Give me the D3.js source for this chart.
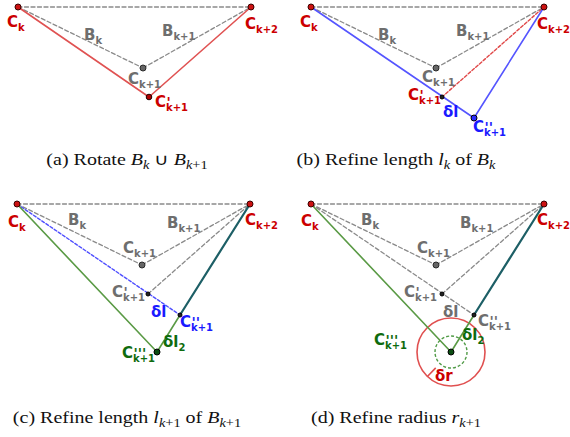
<!DOCTYPE html>
<html>
<head>
<meta charset="utf-8">
<script src="https://cdn.jsdelivr.net/npm/d3@7"></script>
<style>
  body { margin: 0; background: #fff; }
</style>
</head>
<body>
<script>
// Construction points, in panel units (C_k at the origin, y grows downward)
const pointIds = ["ck", "ck1", "ck2", "c1", "c2", "c3"];
const pointX = [0, 125, 233, 131, 163, 140];
const pointY = [0, 61, 0, 90, 111, 148];
const radiusOuter = 34, radiusInner = 16;   // circles round C'''_{k+1} in (d)

const panelIds = ["a", "b", "c", "d"];

// which segments and points each panel shows
const panelSegments = [
  [["ck","ck2","gray"],["ck","ck1","gray"],["ck1","ck2","gray"],["ck","c1","red"],["c1","ck2","red"]],
  [["ck","ck2","gray"],["ck","ck1","gray"],["ck1","ck2","gray"],["c1","ck2","redDash"],["ck","c2","blue"],["c2","ck2","blue"]],
  [["ck","ck2","gray"],["ck","ck1","gray"],["ck1","ck2","gray"],["c1","ck2","gray"],["ck","c2","blueDash"],["ck","c3","green"],["c3","c2","green"],["c2","ck2","teal"]],
  [["ck","ck2","gray"],["ck","ck1","gray"],["ck1","ck2","gray"],["c1","ck2","gray"],["ck","c2","gray"],["ck","c3","green"],["c3","c2","green"],["c2","ck2","teal"]]
];
const panelPoints = [
  [["ck","red"],["ck2","red"],["ck1","gray"],["c1","darkred"]],
  [["ck","red"],["ck2","red"],["ck1","gray"],["c1","black"],["c2","blue"]],
  [["ck","red"],["ck2","red"],["ck1","gray"],["c1","black"],["c2","black"],["c3","green"]],
  [["ck","red"],["ck2","red"],["ck1","gray"],["c1","black"],["c2","black"],["c3","green"]]
];

// label texts: [main, prime, subscript, colour]
const panelLabels = [
  [["C","","k","red"],["C","","k+2","red"],["B","","k","gray"],["B","","k+1","gray"],["C","","k+1","gray"],["C","'","k+1","red"]],
  [["C","","k","red"],["C","","k+2","red"],["B","","k","gray"],["B","","k+1","gray"],["C","","k+1","gray"],["C","'","k+1","red"],["δl","","","blue"],["C","''","k+1","blue"]],
  [["C","","k","red"],["C","","k+2","red"],["B","","k","gray"],["B","","k+1","gray"],["C","","k+1","gray"],["C","'","k+1","gray"],["δl","","","blue"],["C","''","k+1","blue"],["δl","","2","green"],["C","'''","k+1","green"]],
  [["C","","k","red"],["C","","k+2","red"],["B","","k","gray"],["B","","k+1","gray"],["C","","k+1","gray"],["C","'","k+1","gray"],["δl","","","gray"],["C","''","k+1","gray"],["δl","","2","green"],["C","'''","k+1","green"],["δr","","","red"]]
];

// captions: [text, style] with r roman, i italic, s* subscript
const captions = [
  [["(a) Rotate ","r"],["B","i"],["k","si"],[" ∪ ","r"],["B","i"],["k","si"],["+1","sr"]],
  [["(b) Refine length ","r"],["l","i"],["k","si"],[" of ","r"],["B","i"],["k","si"]],
  [["(c) Refine length ","r"],["l","i"],["k","si"],["+1","sr"],[" of ","r"],["B","i"],["k","si"],["+1","sr"]],
  [["(d) Refine radius ","r"],["r","i"],["k","si"],["+1","sr"]]
];

// ---- layout ----
const width = 570, height = 437;
const panelOrigin = [[18, 7], [311, 7], [17, 204], [311, 204]];
const captionPos = [[127, 165], [396, 165], [127, 423], [396, 423]];
// label anchor positions in panel units: [x, y, anchor]
const labelPos = [
  [[-11,20,"start"],[227,22,"start"],[66,33,"start"],[144,29,"start"],[110,77,"start"],[137,100,"start"]],
  [[-11,20,"start"],[226,22,"start"],[67,33,"start"],[145,29,"start"],[111,75,"start"],[130,93,"end"],[132,110,"start"],[162,125,"start"]],
  [[-9,23,"start"],[228,21,"start"],[51,21,"start"],[150,24,"start"],[106,49,"start"],[128,93,"end"],[134,113,"start"],[163,123,"start"],[146,143,"start"],[138,154,"end"]],
  [[-10,22,"start"],[226,21,"start"],[50,21,"start"],[149,24,"start"],[106,49,"start"],[126,93,"end"],[132,113,"start"],[167,122,"start"],[151,136,"start"],[96,141,"end"],[124,177,"start"]]
];

const lineStyle = {
  gray:     { stroke: "#8a8a8a", w: 1.3, dash: "4 2.5" },
  red:      { stroke: "#e05252", w: 1.6, dash: null },
  redDash:  { stroke: "#e04848", w: 1.4, dash: "3 2" },
  blue:     { stroke: "#5555ff", w: 1.6, dash: null },
  blueDash: { stroke: "#4f4fff", w: 1.4, dash: "3 2" },
  green:    { stroke: "#5a9a45", w: 1.6, dash: null },
  teal:     { stroke: "#1d5f66", w: 2.2, dash: null }
};
const pointStyle = {
  red:     { fill: "#cc1111", stroke: "#3a0000", r: 3 },
  gray:    { fill: "#666666", stroke: "#2a2a2a", r: 3 },
  darkred: { fill: "#b00000", stroke: "#200000", r: 2.8 },
  black:   { fill: "#222222", stroke: "#000000", r: 2 },
  blue:    { fill: "#2a2aff", stroke: "#000000", r: 3 },
  green:   { fill: "#0b4d12", stroke: "#000000", r: 3 }
};
const textColor = { red: "#cc0000", gray: "#6e6e6e", blue: "#1a1aff", green: "#0e6b0e" };

const svg = d3.select("body").append("svg")
  .attr("width", width).attr("height", height)
  .attr("viewBox", [0, 0, width, height]);

function drawLabel(g, x, y, anchor, L) {
  const [main, prime, sub, col] = L;
  const t = g.append("text")
    .attr("x", x).attr("y", y)
    .attr("text-anchor", anchor)
    .attr("fill", textColor[col])
    .attr("font-family", "DejaVu Sans")
    .attr("font-weight", "bold")
    .attr("font-size", 15);
  t.append("tspan").text(main);
  if (prime) {
    // slanted prime marks up right of the C, subscript tucked under them
    const p = t.append("tspan").attr("font-size", 14).attr("font-style", "italic")
      .attr("dx", 0.5).attr("dy", 0).text(prime);
    const w = p.node().getComputedTextLength() + 0.5;
    t.append("tspan").attr("font-size", 10).attr("font-style", "normal")
      .attr("dx", -w).attr("dy", 4).text(sub);
  } else if (sub) {
    t.append("tspan").attr("font-size", 10).attr("dy", 4).text(sub);
  }
}

panelIds.forEach((id, p) => {
  const [ox, oy] = panelOrigin[p];
  const x = d3.scaleLinear().domain([0, 233]).range([ox, ox + 233]);
  const y = d3.scaleLinear().domain([0, 148]).range([oy, oy + 148]);
  const px = n => x(pointX[pointIds.indexOf(n)]);
  const py = n => y(pointY[pointIds.indexOf(n)]);

  const g = svg.append("g").attr("class", "panel-" + id);

  // circles in (d)
  if (id === "d") {
    const cx = px("c3"), cy = py("c3");
    const rs = d3.scaleLinear().domain([0, 1]).range([0, x(1) - x(0)]);
    g.append("circle").attr("cx", cx).attr("cy", cy).attr("r", rs(radiusInner))
      .attr("fill", "none").attr("stroke", "#4f9a45").attr("stroke-width", 1.4).attr("stroke-dasharray", "3 2");
    g.append("circle").attr("cx", cx).attr("cy", cy).attr("r", rs(radiusOuter))
      .attr("fill", "none").attr("stroke", "#e05050").attr("stroke-width", 1.6);
    const a = 134 * Math.PI / 180;
    g.append("line")
      .attr("x1", cx + rs(22) * Math.cos(a)).attr("y1", cy + rs(22) * Math.sin(a))
      .attr("x2", cx + rs(radiusOuter) * Math.cos(a)).attr("y2", cy + rs(radiusOuter) * Math.sin(a))
      .attr("stroke", "#e05050").attr("stroke-width", 1.6);
  }

  // gray dashed first, coloured lines on top
  const segs = panelSegments[p].slice().sort((a, b) => (a[2] === "gray" ? 0 : 1) - (b[2] === "gray" ? 0 : 1));
  g.selectAll("line.seg").data(segs).join("line")
    .attr("class", "seg")
    .attr("x1", d => px(d[0])).attr("y1", d => py(d[0]))
    .attr("x2", d => px(d[1])).attr("y2", d => py(d[1]))
    .attr("stroke", d => lineStyle[d[2]].stroke)
    .attr("stroke-width", d => lineStyle[d[2]].w)
    .attr("stroke-dasharray", d => lineStyle[d[2]].dash)
    .attr("stroke-linecap", "round");

  g.selectAll("circle.pt").data(panelPoints[p]).join("circle")
    .attr("class", "pt")
    .attr("cx", d => px(d[0])).attr("cy", d => py(d[0]))
    .attr("r", d => pointStyle[d[1]].r)
    .attr("fill", d => pointStyle[d[1]].fill)
    .attr("stroke", d => pointStyle[d[1]].stroke)
    .attr("stroke-width", 1);

  panelLabels[p].forEach((L, i) => {
    const [lx, ly, anchor] = labelPos[p][i];
    drawLabel(g, x(lx), y(ly), anchor, L);
  });

  // caption (the reference type is a bit stretched horizontally)
  const cap = svg.append("text")
    .attr("transform", `translate(${captionPos[p][0]},${captionPos[p][1]}) scale(1.25,1)`)
    .attr("text-anchor", "middle")
    .attr("font-family", "Liberation Serif")
    .attr("font-size", 16)
    .attr("fill", "#111");
  let low = false;
  captions[p].forEach(([txt, st]) => {
    const isSub = st[0] === "s";
    const ts = cap.append("tspan").text(txt)
      .attr("font-style", st.endsWith("i") ? "italic" : "normal")
      .attr("font-size", isSub ? 11.5 : 16);
    if (isSub && !low) { ts.attr("dy", 4); low = true; }
    if (!isSub && low) { ts.attr("dy", -4); low = false; }
  });
});
</script>
</body>
</html>
